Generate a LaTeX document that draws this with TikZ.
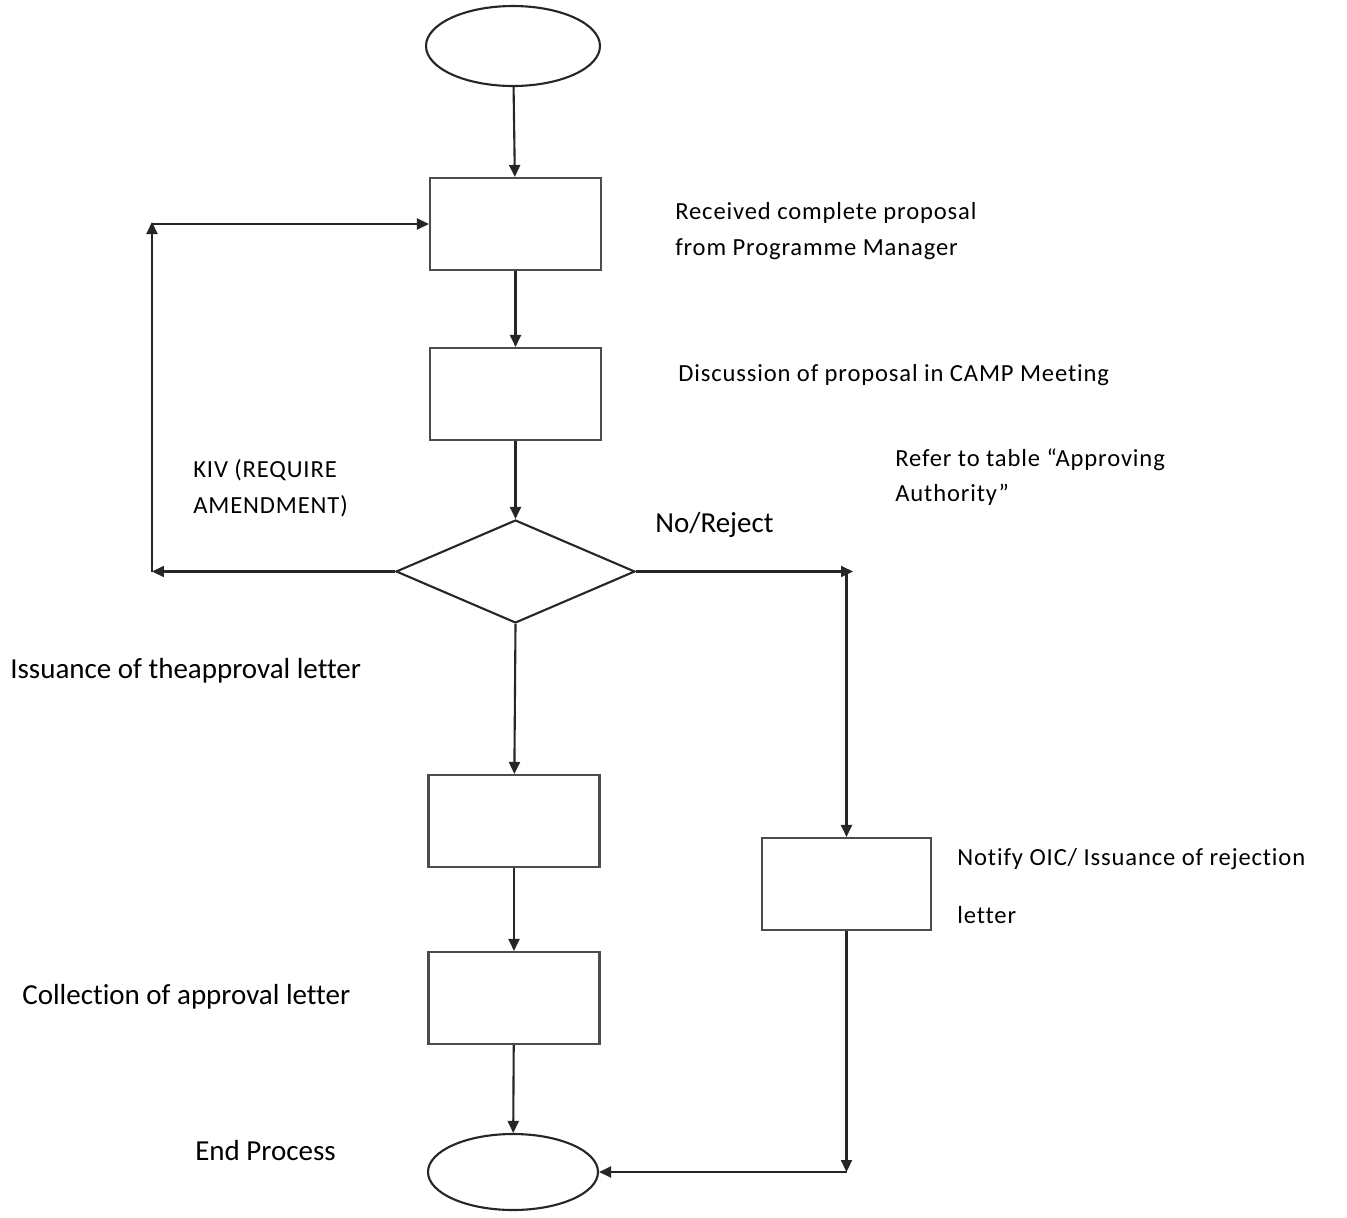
\documentclass[tikz,border=0pt]{standalone}
\usepackage{fontspec}
\usetikzlibrary{shapes.geometric,arrows.meta}
\newfontfamily\lblsmallfam[LetterSpace=3.5,Ligatures=NoCommon]{Carlito}
\newfontfamily\lblbigfam[Ligatures=NoCommon]{Carlito}
\tikzset{
  boxst/.style={draw=black!70, line width=1.2pt, rectangle, minimum width=3.42cm, minimum height=1.84cm, inner sep=0pt},
  ellst/.style={draw=black!85, line width=1.2pt, ellipse, inner sep=0pt},
  decst/.style={draw=black!85, line width=1.2pt, diamond, minimum width=4.78cm, minimum height=2.06cm, inner sep=0pt},
  arr/.style={line width=1.2pt, draw=black!85, -{Triangle[length=0.24cm,width=0.22cm]}},
  lsm/.style={anchor=base west, inner sep=0pt, font=\lblsmallfam\fontsize{14}{17}\selectfont},
  lbg/.style={anchor=base west, inner sep=0pt, font=\lblbigfam\fontsize{16.5}{20}\selectfont}
}
\begin{document}
\begin{tikzpicture}[x=0.02cm,y=-0.02cm]
\useasboundingbox[fill=white] (0,0) rectangle (1347,1218);
% shapes
\node[ellst, minimum width=3.48cm, minimum height=1.6cm] (start) at (513,46) {};
\node[boxst] (b1) at (515.5,224) {};
\node[boxst] (b2) at (515.5,394) {};
\node[decst] (dec) at (515.5,571.5) {};
\node[boxst] (b4) at (514,821) {};
\node[boxst] (b5) at (514,998) {};
\node[boxst, minimum width=3.38cm] (b3) at (846.5,884) {};
\node[ellst, minimum width=3.4cm, minimum height=1.52cm] (end) at (513,1172) {};
% helper coordinates
\coordinate (kl) at (152,571.5);
\coordinate (ku) at (152,222);
\coordinate (kb) at (152,224);
\coordinate (kr) at (853,571.5);
\coordinate (rt) at (846.5,571.5);
\coordinate (rb) at (846.5,1172);
% connectors
\draw[arr] (start) -- (b1);
\draw[arr] (b1) -- (b2);
\draw[arr] (b2) -- (dec);
\draw[arr] (dec.west) -- (kl);
\draw[arr] (kl) -- (ku);
\draw[arr] (kb) -- (b1.west);
\draw[arr] (dec.east) -- (kr);
\draw[arr] (rt) -- (b3.north);
\draw[arr] (b3.south) -- (rb);
\draw[arr] (rb) -- (end.east);
\draw[arr] (dec.south) -- (b4);
\draw[arr] (b4) -- (b5);
\draw[arr] (b5) -- (end);
% labels
\node[lsm] (t1a) at (675,219) {Received complete proposal};
\node[lsm] (t1b) at (675,255) {from Programme Manager};
\node[lsm] (t2) at (678,381) {Discussion of proposal in CAMP Meeting};
\node[lsm] (t3a) at (895,466) {Refer to table “Approving};
\node[lsm] (t3b) at (895,501) {Authority”};
\node[lsm] (t4a) at (193,477) {KIV (REQUIRE};
\node[lsm] (t4b) at (193,513) {AMENDMENT)};
\node[lbg] (t5) at (655,532) {No/Reject};
\node[lbg] (t6) at (10,678) {Issuance of theapproval letter};
\node[lsm] (t7a) at (957,865) {Notify OIC/ Issuance of rejection};
\node[lsm] (t7b) at (957,923) {letter};
\node[lbg] (t8) at (22,1004) {Collection of approval letter};
\node[lbg] (t9) at (195,1160) {End Process};
\end{tikzpicture}
\end{document}
